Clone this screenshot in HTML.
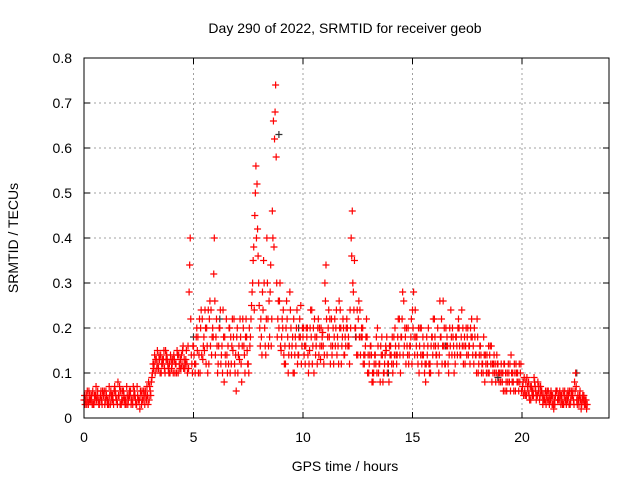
<!DOCTYPE html>
<html><head><meta charset="utf-8"><style>
body{margin:0;background:#fff;}
svg{display:block;font-family:"Liberation Sans",sans-serif;}
</style></head><body>
<svg id="chart" width="640" height="480">
<text x="345" y="33" font-size="14" text-anchor="middle" fill="#000">Day 290 of 2022, SRMTID for receiver geob</text>
<text x="345" y="471" font-size="14" text-anchor="middle" fill="#000">GPS time / hours</text>
<text transform="translate(18,238) rotate(-90)" font-size="14" text-anchor="middle" fill="#000">SRMTID / TECUs</text>
<g id="grid"></g><g id="pts"></g>
<rect x="84" y="58" width="525" height="360" fill="none" stroke="#000" stroke-width="1"/>
<g id="ticks"></g>
</svg>
<script>
const xTicks=[0,5,10,15,20];
const yTicks=[0,0.1,0.2,0.3,0.4,0.5,0.6,0.7,0.8];
const seriesA=[.04,.05,.03,.04,.06,.04,.05,.03,.04,.05,.06,.04,.03,.05,.07,.04,.05,.03,.06,.04,.03,.05,.04,.06,.03,.04,.05,.04,.06,.05,.07,.09,.12,.13,.11,.14,.12,.10,.13,.12,.11,.14,.12,.10,.13,.15,.11,.12,.28,.14,.16,.12,.18,.10,.22,.15,.20,.12,.24,.18,.14,.10,.20,.16,.08,.22,.12,.18,.15,.10,.20,.13,.08,.16,.22,.12,.18,.30,.45,.52,.25,.18,.35,.14,.22,.28,.46,.62,.30,.20,.15,.24,.12,.18,.28,.16,.10,.20,.14,.25,.18,.12,.20,.15,.24,.10,.16,.22,.13,.19,.30,.14,.18,.22,.12,.20,.16,.24,.18,.14,.22,.16,.40,.28,.20,.14,.24,.18,.12,.22,.10,.16,.08,.14,.20,.12,.18,.10,.15,.12,.16,.10,.20,.14,.22,.18,.26,.12,.20,.16,.24,.14,.18,.10,.20,.14,.08,.16,.12,.18,.22,.14,.10,.18,.26,.12,.16,.20,.14,.10,.18,.22,.14,.20,.12,.18,.16,.22,.12,.14,.10,.16,.12,.08,.14,.10,.16,.12,.08,.12,.10,.08,.12,.06,.10,.14,.08,.06,.10,.08,.06,.09,.05,.08,.04,.06,.07,.05,.04,.06,.05,.03,.06,.04,.05,.03,.06,.04,.05,.03,.04,.06,.03,.05,.08,.04,.03,.02,.04,.03];
const seriesB=[.03,.06,.04,.05,.03,.07,.04,.05,.06,.03,.04,.07,.05,.03,.05,.08,.03,.06,.04,.07,.05,.03,.07,.04,.05,.02,.06,.05,.04,.08,.05,.12,.10,.15,.13,.12,.15,.13,.11,.14,.13,.10,.15,.12,.14,.11,.13,.16,.40,.10,.12,.20,.14,.24,.16,.20,.10,.26,.18,.40,.22,.16,.12,.24,.14,.10,.20,.16,.22,.06,.14,.18,.22,.10,.15,.20,.25,.38,.56,.36,.16,.28,.20,.40,.26,.16,.66,.74,.22,.30,.22,.12,.26,.14,.20,.10,.18,.12,.22,.16,.14,.20,.10,.24,.16,.18,.12,.20,.16,.12,.34,.20,.12,.16,.22,.14,.26,.12,.20,.16,.16,.24,.46,.35,.14,.26,.18,.12,.16,.10,.14,.08,.12,.18,.10,.16,.08,.14,.10,.16,.12,.18,.14,.22,.10,.28,.20,.16,.14,.22,.28,.18,.12,.20,.14,.10,.18,.12,.16,.22,.16,.20,.26,.12,.20,.16,.10,.24,.18,.12,.14,.16,.24,.16,.20,.14,.20,.14,.18,.22,.14,.10,.18,.12,.10,.16,.12,.10,.14,.08,.12,.06,.10,.08,.12,.08,.12,.10,.06,.12,.08,.05,.07,.04,.06,.09,.04,.06,.07,.03,.04,.06,.03,.05,.02,.06,.04,.05,.03,.06,.05,.03,.06,.04,.10,.05,.06,.04,.03,.02];
const seriesC=[.05,.03,.06,.04,.03,.05,.06,.04,.03,.06,.05,.03,.06,.04,.06,.03,.07,.04,.05,.03,.04,.06,.03,.05,.07,.04,.03,.06,.05,.03,.06,.10,.14,.11,.14,.10,.13,.15,.12,.10,.12,.13,.10,.14,.11,.16,.12,.10,.34,.12,.14,.18,.10,.20,.13,.24,.16,.22,.14,.32,.18,.12,.24,.10,.18,.14,.20,.12,.18,.14,.10,.22,.16,.14,.18,.10,.22,.35,.50,.42,.20,.14,.30,.22,.16,.34,.40,.68,.18,.26,.18,.14,.20,.10,.24,.18,.14,.24,.18,.12,.20,.16,.14,.20,.12,.22,.18,.14,.20,.16,.26,.18,.22,.14,.18,.24,.12,.20,.22,.18,.20,.12,.36,.24,.18,.22,.14,.20,.14,.18,.12,.14,.10,.12,.16,.08,.14,.12,.18,.08,.14,.12,.16,.18,.14,.22,.16,.20,.12,.18,.20,.24,.14,.16,.12,.16,.12,.20,.10,.14,.18,.12,.14,.22,.16,.20,.12,.16,.20,.14,.16,.20,.18,.12,.16,.20,.12,.18,.20,.10,.12,.14,.10,.14,.12,.14,.08,.14,.10,.10,.08,.10,.06,.10,.08,.10,.06,.12,.08,.10,.07,.06,.09,.05,.07,.05,.06,.08,.05,.05,.04,.05,.04,.06,.03,.05,.04,.06,.04,.05,.03,.05,.04,.06,.06,.03,.05,.03,.05,.04];
const seriesD=[.04,.04,.05,.03,.05,.04,.03,.06,.05,.04,.03,.05,.04,.06,.04,.05,.06,.04,.03,.05,.06,.04,.05,.03,.04,.06,.04,.03,.07,.04,.08,.11,.13,.12,.10,.13,.11,.14,.10,.13,.10,.12,.14,.11,.12,.13,.15,.11,.22,.16,.10,.15,.22,.14,.18,.12,.24,.16,.20,.26,.16,.20,.14,.18,.12,.16,.10,.22,.12,.18,.16,.12,.20,.18,.12,.16,.28,.24,.40,.30,.22,.24,.16,.30,.18,.22,.38,.58,.26,.16,.20,.16,.22,.16,.14,.22,.16,.14,.18,.20,.16,.18,.12,.18,.20,.14,.20,.16,.18,.14,.22,.24,.16,.20,.16,.18,.20,.16,.14,.20,.18,.20,.30,.20,.24,.18,.20,.14,.18,.14,.16,.10,.14,.10,.12,.14,.10,.16,.12,.14,.18,.14,.12,.16,.18,.14,.18,.14,.16,.12,.18,.16,.20,.14,.18,.12,.14,.10,.18,.16,.14,.16,.18,.16,.12,.18,.14,.18,.16,.18,.20,.14,.16,.18,.14,.16,.18,.16,.14,.18,.16,.12,.14,.10,.16,.12,.10,.12,.12,.10,.10,.12,.08,.12,.06,.10,.10,.08,.12,.06,.05,.08,.06,.07,.05,.08,.05,.07,.06,.04,.06,.04,.05,.03,.04,.06,.05,.03,.06,.04,.04,.06,.05,.03,.07,.04,.04,.05,.04,.03];
const blackTimes=[5.0,6.2,8.9,9.8,12.4,13.9,16.5,18.9,22.5];
const blackValues=[.18,.22,.63,.20,.18,.10,.16,.09,.10];
const NS='http://www.w3.org/2000/svg';
const X=t=>84+t*21.9, Y=v=>418-v*450;
const grid=document.getElementById('grid'),ticks=document.getElementById('ticks'),pts=document.getElementById('pts');
function mk(tag,at,parent){const e=document.createElementNS(NS,tag);for(const k in at)e.setAttribute(k,at[k]);parent.appendChild(e);return e;}
xTicks.forEach(t=>{const x=X(t);
 if(t>0){const g=mk('line',{x1:x,x2:x,y1:58,y2:418,stroke:'#a0a0a0','stroke-dasharray':'2,3'},grid);
 
 }
 mk('line',{x1:x,x2:x,y1:418,y2:412,stroke:'#000'},ticks);mk('line',{x1:x,x2:x,y1:58,y2:64,stroke:'#000'},ticks);
 const l=mk('text',{x:x,y:442,'font-size':14,'text-anchor':'middle'},ticks);l.textContent=t;
 
 });
yTicks.forEach(v=>{const y=Y(v);
 if(v>0&&v<0.8){const g=mk('line',{x1:84,x2:609,y1:y,y2:y,stroke:'#a0a0a0','stroke-dasharray':'2,3'},grid);
 
 }
 mk('line',{x1:84,x2:90,y1:y,y2:y,stroke:'#000'},ticks);mk('line',{x1:609,x2:603,y1:y,y2:y,stroke:'#000'},ticks);
 const l=mk('text',{x:72,y:y+5,'font-size':14,'text-anchor':'end'},ticks);l.textContent=v===0?'0':v.toFixed(1);
 
 });
function plus(t,v,c,name){const x=X(t),y=Y(v);
 const p=mk('path',{d:`M${x-3.5},${y}H${x+3.5}M${x},${y-3.5}V${y+3.5}`,stroke:c,'stroke-width':1.2,fill:'none'},pts);
 
 }
blackTimes.forEach((t,i)=>plus(t,blackValues[i],'#333','black-point'));
seriesA.forEach((v,i)=>plus(i*0.1,v,'#f00','srmtid-point'));
seriesB.forEach((v,i)=>plus(i*0.1+0.05,v,'#f00','srmtid-point'));
seriesC.forEach((v,i)=>plus(i*0.1+0.025,v,'#f00','srmtid-point'));
seriesD.forEach((v,i)=>plus(i*0.1+0.075,v,'#f00','srmtid-point'));
</script>
</body></html>
